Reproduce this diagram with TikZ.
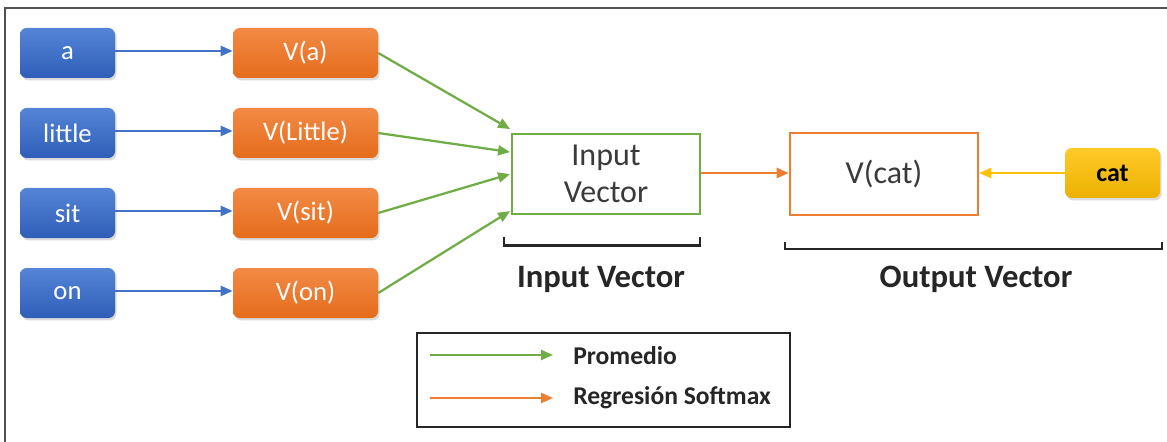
\documentclass[tikz,border=0pt]{standalone}
\usepackage{fontspec}
\setmainfont{Carlito}
\usetikzlibrary{arrows.meta,shadows,calc}
\definecolor{cblueT}{HTML}{5485D6}
\definecolor{cblueB}{HTML}{2F5EB8}
\definecolor{cblue}{HTML}{4472C4}
\definecolor{corangeT}{HTML}{F28A45}
\definecolor{corangeB}{HTML}{E56C1C}
\definecolor{corange}{HTML}{ED7D31}
\definecolor{cgoldT}{HTML}{FFCB2A}
\definecolor{cgoldB}{HTML}{ECB000}
\definecolor{cgold}{HTML}{FFC000}
\definecolor{cgreen}{HTML}{70AD47}
\definecolor{ctext}{HTML}{3A3A3A}
\definecolor{cframe}{HTML}{505050}
\begin{document}
\begin{tikzpicture}[x=0.75pt,y=-0.75pt,
  tipline/.style={line width=1.7pt,-{Triangle[length=9pt,width=7.5pt]}},
  wordbox/.style={rounded corners=5pt, minimum width=71.25pt, minimum height=37.5pt,
    inner sep=0pt, font=\fontsize{20}{22}\selectfont,
    drop shadow={shadow xshift=1.2pt, shadow yshift=-1.8pt, opacity=0.28}},
  bluebox/.style={wordbox, text=white, top color=cblueT, bottom color=cblueB},
  orangebox/.style={wordbox, minimum width=108.75pt, text=white, top color=corangeT, bottom color=corangeB},
  goldbox/.style={wordbox, text=black, top color=cgoldT, bottom color=cgoldB, font=\bfseries\fontsize{19.5}{22}\selectfont},
  vecbox/.style={minimum width=141pt, minimum height=60pt, inner sep=0pt, line width=1.4pt,
    align=center, text=ctext, font=\fontsize{24}{28}\selectfont},
  biglabel/.style={font=\bfseries\fontsize{24.5}{28}\selectfont, text=black!85},
  legendtext/.style={anchor=west, inner sep=0pt, font=\bfseries\fontsize{19.2}{22}\selectfont, text=black!85},
  bracket/.style={line width=2.2pt, black!85}
]
\useasboundingbox (0,0) rectangle (1167,442);
\fill[white] (0,0) rectangle (1167,442);
% frame (top and left edges visible)
\draw[cframe, line width=1.6pt] (5,442) -- (5,8) -- (1167,8);

% word boxes
\node[bluebox] (wa) at (67.5,53) {a};
\node[bluebox] (wl) at (67.5,133) {little};
\node[bluebox] (ws) at (67.5,213) {sit};
\node[bluebox] (wo) at (67.5,293) {on};

\node[orangebox] (va) at (305.5,53) {V(a)};
\node[orangebox] (vl) at (305.5,133) {V(Little)};
\node[orangebox] (vs) at (305.5,213) {V(sit)};
\node[orangebox] (vo) at (305.5,293) {V(on)};

\foreach \s/\t in {wa/va, wl/vl, ws/vs, wo/vo}
  \draw[tipline, cblue] ($(\s.east)+(0,-2)$) -- ($(\t.west)+(0,-2)$);

% input vector
\node[vecbox, draw=cgreen] (iv) at (606,174) {Input\\Vector};
\coordinate (g1) at ($(iv.north west)+(-1,-4)$);
\coordinate (g2) at ($(iv.north west)+(-1,19)$);
\coordinate (g3) at ($(iv.north west)+(-1,41)$);
\coordinate (g4) at ($(iv.north west)+(-1,78)$);
\draw[tipline, cgreen] (va.east) -- (g1);
\draw[tipline, cgreen] (vl.east) -- (g2);
\draw[tipline, cgreen] (vs.east) -- (g3);
\draw[tipline, cgreen] (vo.east) -- (g4);

% output vector
\node[vecbox, minimum width=140pt] (vc) at (884,174) {V(cat)};
\draw[corange, line width=1.4pt] (vc.north west) rectangle (vc.south east);
\node[goldbox] (cat) at (1112.5,173) {cat};
\draw[tipline, corange] ($(iv.east)+(0,-1)$) -- ($(vc.west)+(-1,-1)$);
\draw[tipline, cgold] ($(cat.west)+(0,0)$) -- ($(vc.east)+(1,-1)$);

% brackets
\draw[bracket] (504,237) -- (504,245.5) -- (700,245.5) -- (700,237);
\draw[bracket] (785,242) -- (785,249) -- (1162,249) -- (1162,242);
\node[biglabel] (lin) at (601,279) {Input Vector};
\node[biglabel] (lout) at (976,279) {Output Vector};

% legend
\draw[black!85, line width=1.3pt] (417,333) rectangle (790,427);
\coordinate (l1a) at (430,355);
\coordinate (l1b) at (553,355);
\coordinate (l2a) at (430,398);
\coordinate (l2b) at (553,398);
\draw[tipline, cgreen] (l1a) -- (l1b);
\draw[tipline, corange] (l2a) -- (l2b);
\node[legendtext] (t1) at (573,356) {Promedio};
\node[legendtext] (t2) at (573,398) {Regresión Softmax};
\end{tikzpicture}
\end{document}
